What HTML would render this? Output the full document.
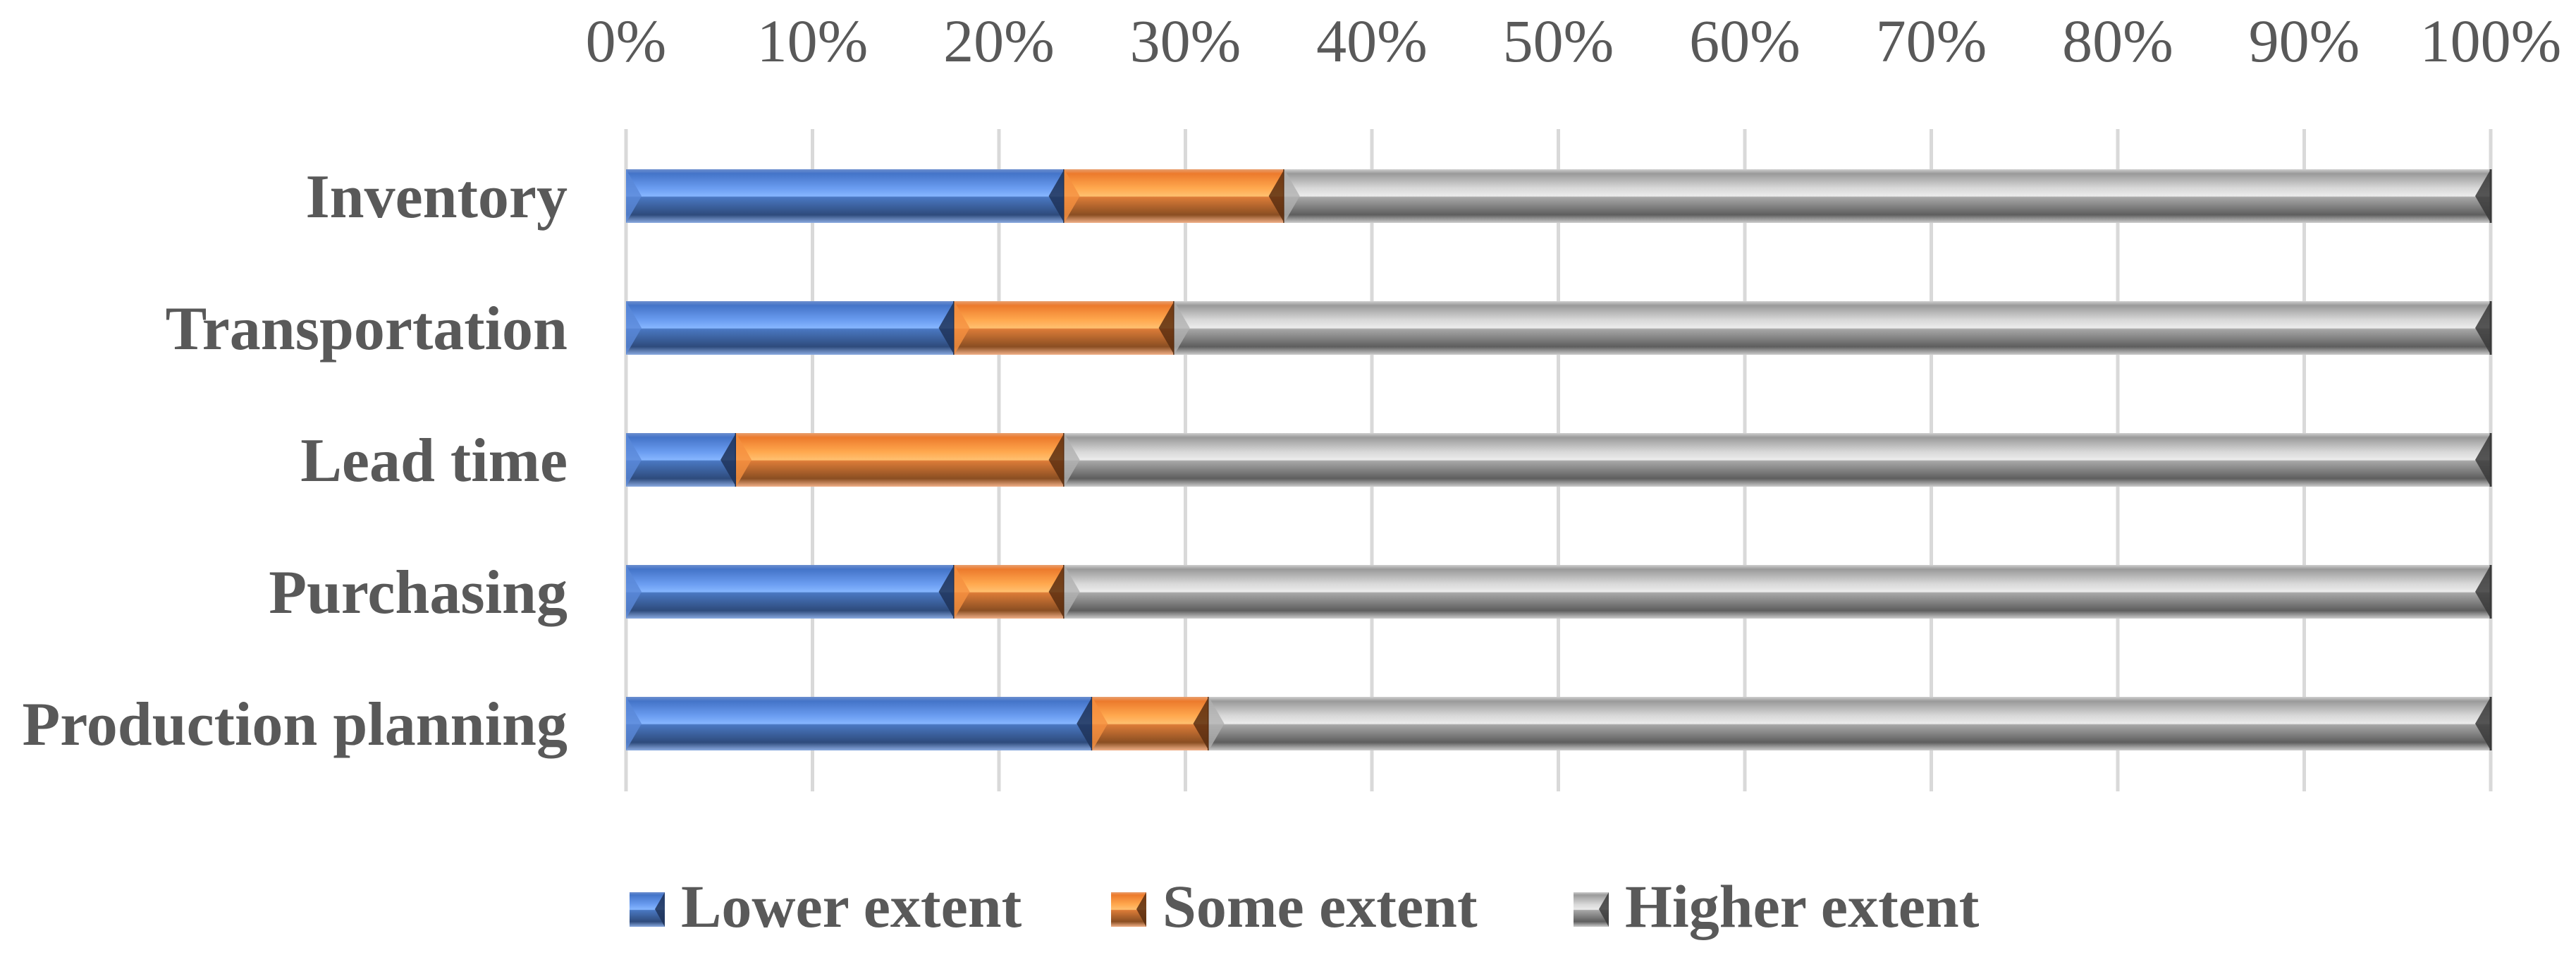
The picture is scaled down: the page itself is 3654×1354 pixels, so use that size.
<!DOCTYPE html>
<html><head><meta charset="utf-8"><style>
html,body{margin:0;padding:0;background:#fff;}
svg{display:block;}
text{font-family:"Liberation Serif",serif;fill:#595959;}
</style></head>
<body>
<svg id="chart" width="3654" height="1354" viewBox="0 0 3654 1354" xmlns="http://www.w3.org/2000/svg">
<defs>
<linearGradient id="gBlue" x1="0" y1="0" x2="0" y2="1">
<stop offset="0" stop-color="#6d8fcf"/><stop offset="0.08" stop-color="#4474c8"/><stop offset="0.35" stop-color="#6a9cf0"/><stop offset="0.5" stop-color="#86b6ff"/><stop offset="0.52" stop-color="#4a78c2"/><stop offset="0.85" stop-color="#2e4b7c"/><stop offset="1" stop-color="#8aaae0"/>
</linearGradient>
<linearGradient id="gOrange" x1="0" y1="0" x2="0" y2="1">
<stop offset="0" stop-color="#e8a070"/><stop offset="0.08" stop-color="#ec7a2c"/><stop offset="0.35" stop-color="#ffa84e"/><stop offset="0.5" stop-color="#ffc070"/><stop offset="0.52" stop-color="#dc7c38"/><stop offset="0.85" stop-color="#8a4e22"/><stop offset="1" stop-color="#f0b088"/>
</linearGradient>
<linearGradient id="gGray" x1="0" y1="0" x2="0" y2="1">
<stop offset="0" stop-color="#cfcfcf"/><stop offset="0.08" stop-color="#9a9a9a"/><stop offset="0.35" stop-color="#d8d8d8"/><stop offset="0.5" stop-color="#ececec"/><stop offset="0.52" stop-color="#a8a8a8"/><stop offset="0.85" stop-color="#5e5e5e"/><stop offset="1" stop-color="#cccccc"/>
</linearGradient>
</defs>
<g id="grid"></g><g id="bars"></g><g id="labels"></g><g id="legend"></g>
</svg>
<script>
const categories = ["Inventory","Transportation","Lead time","Purchasing","Production planning"];
const lowerExtent = [23.5, 17.6, 5.9, 17.6, 25.0];
const someExtent = [11.8, 11.8, 17.6, 5.9, 6.25];
const higherExtent = [64.7, 70.6, 76.5, 76.5, 68.75];
const tickValues = [0,10,20,30,40,50,60,70,80,90,100];
const seriesNames = ["Lower extent","Some extent","Higher extent"];

const NS = "http://www.w3.org/2000/svg";
const X0 = 888, X1 = 3533, Y0 = 278, STEP = 187, BH = 76;
const xScale = v => X0 + (X1 - X0) * v / 100;
const yScale = i => Y0 + i * STEP;
function mk(tag, attrs, parent){const e=document.createElementNS(NS,tag);for(const k in attrs)e.setAttribute(k,attrs[k]);parent.appendChild(e);return e;}
const grid=document.getElementById('grid'), bars=document.getElementById('bars'), labels=document.getElementById('labels'), legend=document.getElementById('legend');

tickValues.forEach(t=>{
  const x=xScale(t);
  const l=mk('line',{x1:x,x2:x,y1:183,y2:1122,stroke:'#d9d9d9','stroke-width':5},grid);
  
  
  const tx=mk('text',{x:x,y:87,'text-anchor':'middle','font-size':86},labels);
  tx.textContent=t+'%';
  
  
});

const fills=['url(#gBlue)','url(#gOrange)','url(#gGray)'];
const edge=['#1e3358','#5a2e10','#3a3a3a'];
const lite=['#5a88d8','#f59040','#b0b0b0'];
function seg(x0,x1,yc,k,parent,name){
  const g=mk('g',{},parent);
  
  
  const yt=yc-BH/2, yb=yc+BH/2, w=Math.max(0,x1-x0), bv=Math.min(22,w/3);
  mk('rect',{x:x0,y:yt,width:w,height:BH,fill:fills[k]},g);
  mk('polygon',{points:`${x0},${yt} ${x0+bv},${yc} ${x0},${yb}`,fill:lite[k],opacity:0.8},g);
  mk('polygon',{points:`${x1},${yt} ${x1-bv},${yc} ${x1},${yb}`,fill:edge[k],opacity:0.85},g);
  mk('line',{x1:x1,x2:x1,y1:yt,y2:yb,stroke:edge[k],'stroke-width':3},g);
}
categories.forEach((c,i)=>{
  const yc=yScale(i);
  const a=lowerExtent[i], b=someExtent[i], h=higherExtent[i];
  seg(xScale(0),xScale(a),yc,0,bars,'bar-lower-'+i);
  seg(xScale(a),xScale(a+b),yc,1,bars,'bar-some-'+i);
  seg(xScale(a+b),xScale(a+b+h),yc,2,bars,'bar-higher-'+i);
  const t=mk('text',{x:805,y:yc+30,'text-anchor':'end','font-size':88,'font-weight':'bold'},labels);
  t.textContent=c;
  
  
});

const legX=[893,1576,2232];
seriesNames.forEach((s,k)=>{
  const g=mk('g',{},legend);
  
  
  mk('rect',{x:legX[k],y:1265,width:50,height:49,fill:fills[k]},g);
  mk('polygon',{points:`${legX[k]+50},1265 ${legX[k]+36},1289 ${legX[k]+50},1314`,fill:edge[k],opacity:0.85},g);
  const t=mk('text',{x:legX[k]+73,y:1314,'font-size':86,'font-weight':'bold'},g);
  t.textContent=s;
});
</script>
</body></html>
